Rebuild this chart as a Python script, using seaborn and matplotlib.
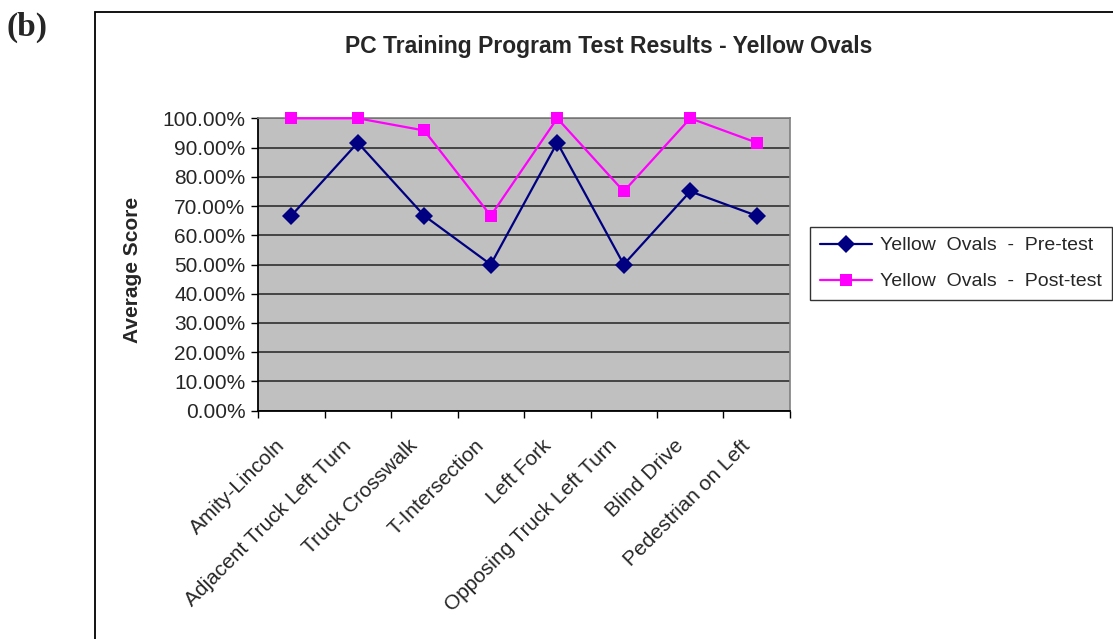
import pandas as pd
import matplotlib.pyplot as plt
import seaborn as sns
from matplotlib.lines import Line2D
from matplotlib.patches import Rectangle
from matplotlib.ticker import FixedLocator, FuncFormatter
from matplotlib.transforms import ScaledTranslation

# --- chart data ---
scenarios = ["Amity-Lincoln", "Adjacent Truck Left Turn", "Truck Crosswalk",
             "T-Intersection", "Left Fork", "Opposing Truck Left Turn",
             "Blind Drive", "Pedestrian on Left"]
pre_test = [66.67, 91.67, 66.67, 50.00, 91.67, 50.00, 75.00, 66.67]
post_test = [100.00, 100.00, 95.83, 66.67, 100.00, 75.00, 100.00, 91.67]
series_names = ["Yellow Ovals - Pre-test", "Yellow Ovals - Post-test"]
y_ticks = [0, 10, 20, 30, 40, 50, 60, 70, 80, 90, 100]

df = pd.DataFrame({
    "Scenario": scenarios * 2,
    "Score": pre_test + post_test,
    "Series": [series_names[0]] * len(scenarios) + [series_names[1]] * len(scenarios),
})
df["pos"] = list(range(len(scenarios))) * 2

sns.set_style("white")
plt.rcParams["font.family"] = ["Liberation Sans", "DejaVu Sans"]

W, H = 1113, 639
fig = plt.figure(figsize=(W / 100, H / 100), dpi=100)
ax = fig.add_axes([258 / W, 1 - 410.7 / H, 532 / W, 292.4 / H])

colors = {series_names[0]: "#000080", series_names[1]: "#FF00FF"}
markers = {series_names[0]: "D", series_names[1]: "s"}
msize = {series_names[0]: 9, series_names[1]: 8.5}
sns.lineplot(data=df, x="pos", y="Score", hue="Series", style="Series",
             palette=colors, markers=markers, dashes=False, markersize=9,
             markeredgewidth=0, linewidth=1.6, ax=ax, legend=False, clip_on=False,
             zorder=3)
for line, name in zip(ax.get_lines(), series_names):
    line.set_markersize(msize[name])

ax.set_facecolor("#C0C0C0")
ax.set_xlim(-0.5, len(scenarios) - 0.5)
ax.set_ylim(0, 100)
ax.set_yticks(y_ticks)
ax.yaxis.set_major_formatter(FuncFormatter(lambda v, p: f"{v:.2f}%"))
ax.grid(axis="y", color="#3a3a3a", linewidth=1.3)
ax.set_axisbelow(True)

ax.set_xticks(range(len(scenarios)))
ax.set_xticklabels(scenarios, rotation=45, ha="right", rotation_mode="anchor", fontsize=15)
ax.xaxis.set_minor_locator(FixedLocator([i - 0.5 for i in range(len(scenarios) + 1)]))
ax.tick_params(axis="x", which="major", length=0, pad=14)
ax.tick_params(axis="x", which="minor", length=5, width=1, color="black", direction="out", bottom=True)
ax.tick_params(axis="y", length=5, width=1, color="black", direction="out", left=True, labelsize=15, pad=4)

# nudge the slanted category labels left/down like the original
shift = ScaledTranslation(-16 / 100, -6 / 100, fig.dpi_scale_trans)
for lbl in ax.get_xticklabels():
    lbl.set_transform(lbl.get_transform() + shift)

for side in ["top", "right"]:
    ax.spines[side].set_color("#808080")
    ax.spines[side].set_linewidth(1.2)
for side in ["left", "bottom"]:
    ax.spines[side].set_color("black")
    ax.spines[side].set_linewidth(1.3)

ax.set_xlabel("")
ax.set_ylabel("")
fig.text(133 / W, 1 - 270 / H, "Average Score", rotation=90, ha="center", va="center",
         fontsize=15, fontweight="bold")

fig.text(609 / W, 1 - 46 / H, "PC Training Program Test Results - Yellow Ovals",
         ha="center", va="center", fontsize=16.5, fontweight="bold")
fig.text(7 / W, 1 - 27 / H, "(b)", ha="left", va="center", fontsize=24,
         fontweight="bold", family=["Liberation Serif", "DejaVu Serif"])

# outer chart frame
fig.patches.append(Rectangle((95 / W, -0.1), 1.2, 1 - 12 / H + 0.1,
                             transform=fig.transFigure, fill=False,
                             edgecolor="black", linewidth=1.3))

handles = [Line2D([], [], color=colors[n], marker=markers[n], markersize=msize[n],
                  markeredgewidth=0, linewidth=1.6) for n in series_names]
labels = [n.replace(" ", "  ") for n in series_names]
leg = fig.legend(handles, labels, loc="upper left",
                 bbox_to_anchor=(810 / W, 1 - 227 / H),
                 fontsize=14, frameon=True, fancybox=False, edgecolor="black",
                 handlelength=2.7, handletextpad=0.4, borderpad=0.5, labelspacing=0.95,
                 borderaxespad=0)
leg.get_frame().set_linewidth(1)

fig.savefig("out.png", dpi=100)
